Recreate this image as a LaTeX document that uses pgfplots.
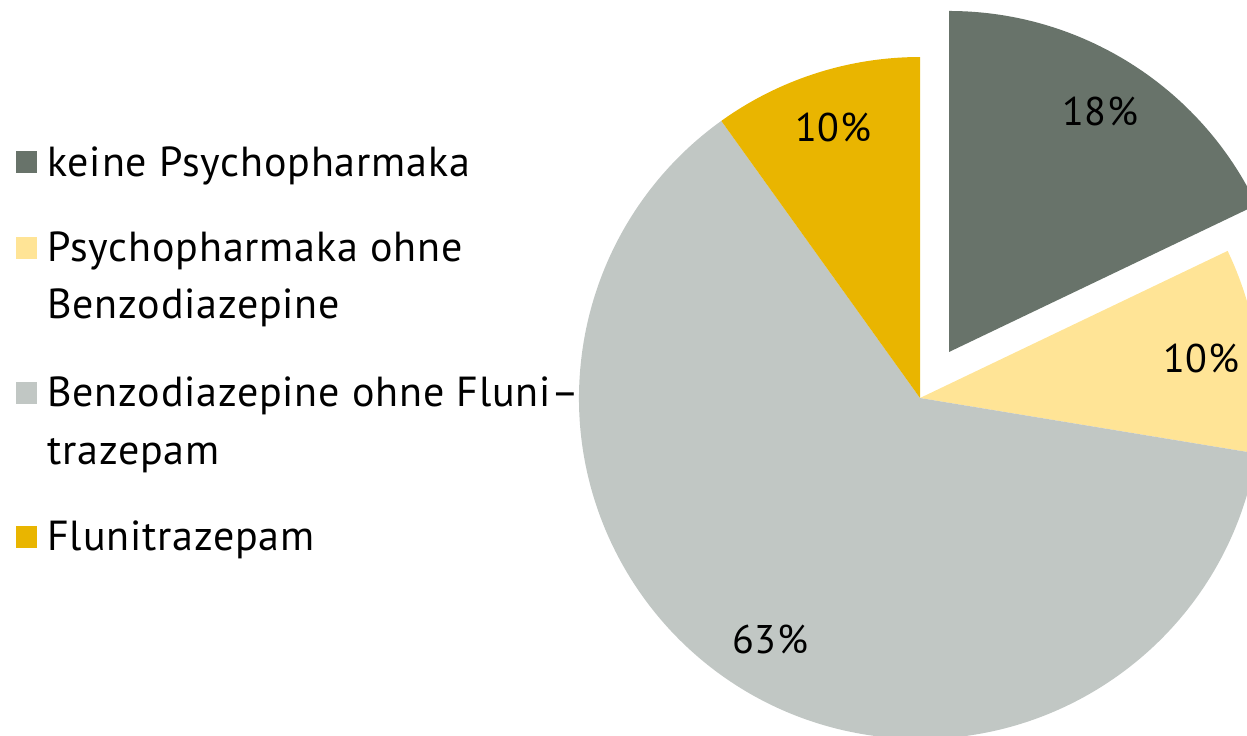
\documentclass[border=0pt]{standalone}
\usepackage{pgfplots}
\pgfplotsset{compat=1.18}
\usepackage{pgfplotstable}
\usepackage{fontspec}
\setmainfont{PT Sans}
\newfontfamily\legfont[LetterSpace=2]{PT Sans}
\newfontfamily\lblfont[LetterSpace=1.5]{PT Sans}

\definecolor{cKeine}{RGB}{104,115,106}
\definecolor{cPsych}{RGB}{255,228,150}
\definecolor{cBenzo}{RGB}{193,199,196}
\definecolor{cFluni}{RGB}{233,181,0}

% share (percent), printed label, colour, explode distance (px)
\pgfplotstableread{
label value pct color explode
keine 17.9 18 cKeine 54.4
psych 9.7 10 cPsych 0
benzo 62.5 63 cBenzo 0
fluni 9.9 10 cFluni 0
}\pietable

\begin{document}
\begin{tikzpicture}
\begin{axis}[
  width=623.5pt, height=367.5pt, scale only axis,
  xmin=0, xmax=1247, ymin=0, ymax=735, y dir=reverse,
  hide axis, clip=true,
]
\pgfplotsextra{
  \gdef\curangle{90}
  \pgfplotstablegetrowsof{\pietable}
  \pgfmathtruncatemacro\lastrow{\pgfplotsretval-1}
  \foreach \i in {0,...,\lastrow}{
    \pgfplotstablegetelem{\i}{value}\of\pietable \let\val\pgfplotsretval
    \pgfplotstablegetelem{\i}{pct}\of\pietable \let\pct\pgfplotsretval
    \pgfplotstablegetelem{\i}{color}\of\pietable \let\col\pgfplotsretval
    \pgfplotstablegetelem{\i}{explode}\of\pietable \let\ex\pgfplotsretval
    \pgfmathsetmacro\endangle{\curangle-3.6*\val}
    \pgfmathsetmacro\midangle{(\curangle+\endangle)/2}
    \pgfmathsetmacro\exr{\ex*0.5}
    \path (axis cs:920,398) ++(\midangle:\exr pt) coordinate (pc);
    \fill[fill=\col] (pc) -- ++(\curangle:170.5pt)
      arc[start angle=\curangle, end angle=\endangle, radius=170.5pt] -- cycle;
    \path (pc) ++(\midangle:142pt) node[font=\lblfont\fontsize{20pt}{24pt}\selectfont, inner sep=0pt] {\pct\%};
    \xdef\curangle{\endangle}
  }
}
% legend
\fill[cKeine] (axis cs:16,151) rectangle (axis cs:37,173);
\fill[cPsych] (axis cs:16,237) rectangle (axis cs:37,259);
\fill[cBenzo] (axis cs:16,382) rectangle (axis cs:37,404);
\fill[cFluni] (axis cs:16,526) rectangle (axis cs:37,548);
\begin{scope}[every node/.style={anchor=base west, inner sep=0pt, font=\legfont\fontsize{21pt}{25pt}\selectfont}]
\node at (axis cs:47,176) {keine Psychopharmaka};
\node at (axis cs:47,261) {Psychopharmaka ohne};
\node at (axis cs:47,318) {Benzodiazepine};
\node at (axis cs:47,406) {Benzodiazepine ohne Fluni–};
\node at (axis cs:47,464) {trazepam};
\node at (axis cs:47,550) {Flunitrazepam};
\end{scope}
\end{axis}
\pgfresetboundingbox
\path[use as bounding box] (current axis.south west) rectangle (current axis.north east);
\end{tikzpicture}
\end{document}
